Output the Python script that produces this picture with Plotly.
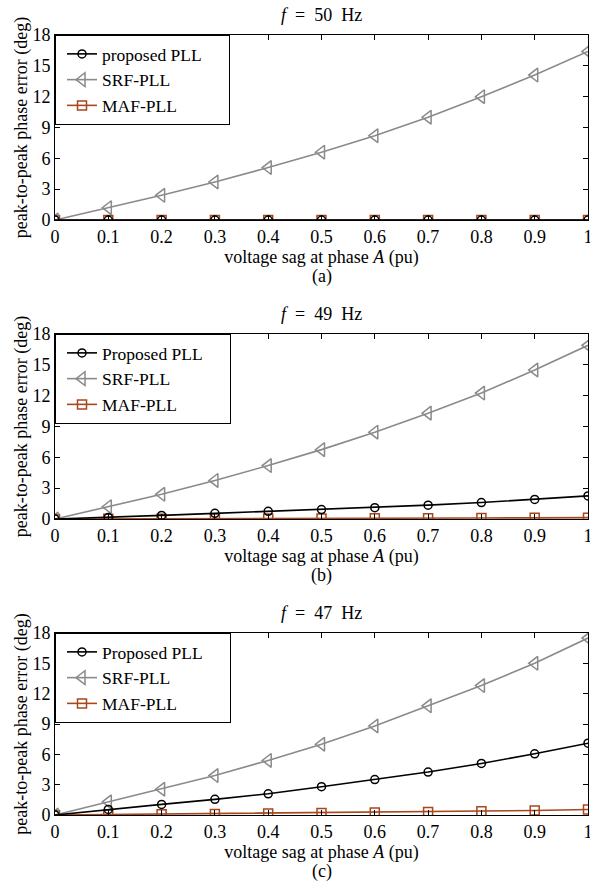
import plotly.graph_objects as go

x_sag = [0, 0.1, 0.2, 0.3, 0.4, 0.5, 0.6, 0.7, 0.8, 0.9, 1.0]

# Panel (a) f = 50 Hz
a_proposed = [0, 0, 0, 0, 0, 0, 0, 0, 0, 0, 0]
a_srf = [0, 1.2, 2.4, 3.7, 5.1, 6.6, 8.2, 10.0, 12.0, 14.1, 16.4]
a_maf = [0, 0, 0, 0, 0, 0, 0, 0, 0, 0, 0]

# Panel (b) f = 49 Hz
b_proposed = [0, 0.15, 0.35, 0.55, 0.75, 0.92, 1.1, 1.35, 1.6, 1.9, 2.25]
b_srf = [0, 1.2, 2.4, 3.75, 5.2, 6.75, 8.45, 10.3, 12.25, 14.5, 16.9]
b_maf = [0, 0.02, 0.03, 0.04, 0.05, 0.06, 0.07, 0.08, 0.1, 0.11, 0.13]

# Panel (c) f = 47 Hz
c_proposed = [0, 0.55, 1.05, 1.55, 2.1, 2.8, 3.5, 4.25, 5.1, 6.05, 7.1]
c_srf = [0, 1.3, 2.55, 3.9, 5.4, 7.0, 8.8, 10.8, 12.8, 15.0, 17.5]
c_maf = [0, 0.05, 0.08, 0.1, 0.15, 0.2, 0.25, 0.3, 0.38, 0.45, 0.55]

NB = "\u00a0"
titles = ["<i>f</i>" + NB * 2 + "=" + NB * 2 + "50" + NB * 2 + "Hz",
          "<i>f</i>" + NB * 2 + "=" + NB * 2 + "49" + NB * 2 + "Hz",
          "<i>f</i>" + NB * 2 + "=" + NB * 2 + "47" + NB * 2 + "Hz"]
sublabels = ["(a)", "(b)", "(c)"]
proposed_names = ["proposed PLL", "Proposed PLL", "Proposed PLL"]
y_ticks = [0, 3, 6, 9, 12, 15, 18]
x_ticks = [0, 0.1, 0.2, 0.3, 0.4, 0.5, 0.6, 0.7, 0.8, 0.9, 1]
x_ticklabels = ["0", "0.1", "0.2", "0.3", "0.4", "0.5", "0.6", "0.7", "0.8", "0.9", "1"]

panels = [
    (a_proposed, a_srf, a_maf),
    (b_proposed, b_srf, b_maf),
    (c_proposed, c_srf, c_maf),
]

W, H = 590, 884
FONT = "Liberation Serif"
BLACK = "#000000"
GRAY = "#8a8a8a"
BROWN = "#a8461c"

# pixel geometry of each plot area (top, bottom)
px_left, px_right = 55, 588
px_rows = [(35, 220), (334, 519), (633, 815)]

fig = go.Figure()

for i, (prop, srf, maf) in enumerate(panels):
    n = "" if i == 0 else str(i + 1)
    xa = "x" + n
    ya = "y" + n
    lg = "legend" + n
    fig.add_trace(go.Scatter(x=x_sag, y=maf, name="MAF-PLL" + NB * 5, mode="lines+markers",
                             line=dict(color=BROWN, width=1.6),
                             marker=dict(symbol="square-open", size=9, color=BROWN, line=dict(width=1.5)),
                             xaxis=xa, yaxis=ya, legend=lg, legendrank=3))
    fig.add_trace(go.Scatter(x=x_sag, y=srf, name="SRF-PLL" + NB * 5, mode="lines+markers",
                             line=dict(color=GRAY, width=1.6),
                             marker=dict(symbol="triangle-left-open", size=12, color=GRAY, line=dict(width=1.5)),
                             xaxis=xa, yaxis=ya, legend=lg, legendrank=2))
    fig.add_trace(go.Scatter(x=x_sag, y=prop, name=proposed_names[i] + NB * 5, mode="lines+markers",
                             line=dict(color=BLACK, width=1.6),
                             marker=dict(symbol="circle-open", size=8, color=BLACK, line=dict(width=1.5)),
                             xaxis=xa, yaxis=ya, legend=lg, legendrank=1))

    top, bot = px_rows[i]
    ydom = [1 - bot / H, 1 - top / H]
    xdom = [px_left / W, px_right / W]
    axis_common = dict(showline=True, linecolor="black", linewidth=1, mirror="allticks",
                       ticks="inside", ticklen=5, tickcolor="black", showgrid=False, zeroline=False,
                       automargin=False, ticklabeloverflow="allow",
                       tickfont=dict(family=FONT, size=18, color="black"))
    fig.update_layout(**{
        ("xaxis" + n): dict(domain=xdom, range=[0, 1], tickvals=x_ticks, ticktext=x_ticklabels,
                            anchor=ya,
                            title=dict(text="voltage sag at phase <i>A</i> (pu)", standoff=0,
                                       font=dict(family=FONT, size=18, color="black")),
                            **axis_common),
        ("yaxis" + n): dict(domain=ydom, range=[0, 18], tickvals=y_ticks, anchor=xa,
                            title=dict(text="peak-to-peak phase error (deg)", standoff=0,
                                       font=dict(family=FONT, size=18, color="black")),
                            **axis_common),
        lg: dict(x=px_left / W, y=1 - top / H, xanchor="left", yanchor="top",
                 bordercolor="black", borderwidth=1, bgcolor="white",
                 font=dict(family=FONT, size=17.5, color="black"),
                 indentation=6,
                 tracegroupgap=0, itemwidth=30, traceorder="normal"),
    })
    fig.add_annotation(text=titles[i], x=(px_left + px_right) / 2 / W, y=1 - (top - 20) / H,
                       xref="paper", yref="paper", showarrow=False, xanchor="center", yanchor="middle",
                       font=dict(family=FONT, size=18, color="black"))
    fig.add_annotation(text=sublabels[i], x=(px_left + px_right) / 2 / W, y=1 - (bot + 56) / H,
                       xref="paper", yref="paper", showarrow=False, xanchor="center", yanchor="middle",
                       font=dict(family=FONT, size=18, color="black"))

fig.update_layout(width=W, height=H, margin=dict(l=0, r=0, t=0, b=0),
                  plot_bgcolor="white", paper_bgcolor="white", showlegend=True,
                  font=dict(family=FONT, color="black"))

fig.write_html("out.html", config={"displayModeBar": False},
               post_script="document.body.style.margin='0';document.body.style.overflow='hidden';")
